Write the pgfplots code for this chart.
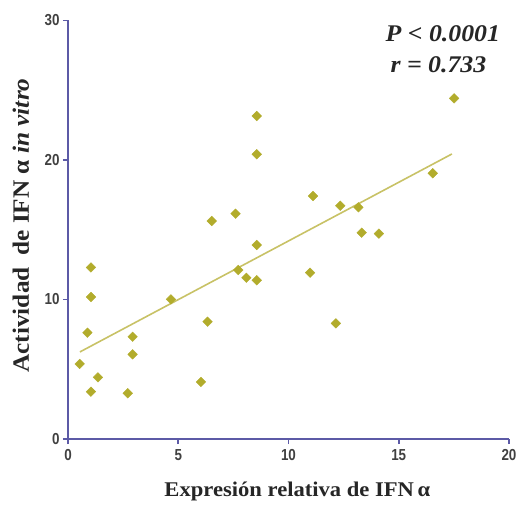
\documentclass[border=0pt]{standalone}
\usepackage{fontspec}
\setmainfont{Liberation Serif}[FakeStretch=1.08]
\newfontfamily\tickfont{Liberation Sans}[FakeStretch=0.84]
\usepackage{pgfplots}
\pgfplotsset{compat=1.18}

\definecolor{axisblue}{HTML}{5C5AA6}
\definecolor{markolive}{HTML}{B2AC2C}
\definecolor{fitolive}{HTML}{C8C266}

\begin{document}
\begin{tikzpicture}
\begin{axis}[
  at={(0,0)}, anchor=south west,
  scale only axis,
  width=441bp, height=418.5bp,
  xmin=0, xmax=20, ymin=0, ymax=30,
  axis x line*=bottom, axis y line*=left,
  axis line style={-, draw=axisblue, line width=1.8bp},
  xtick={0,5,10,15,20}, ytick={0,10,20,30},
  tick align=outside,
  major tick length=5bp,
  tick style={draw=axisblue, line width=1.5bp},
  /pgf/number format/assume math mode=true,
  ticklabel style={font=\tickfont\bfseries\fontsize{16}{16}\selectfont, text=black!75},
  xticklabel style={yshift=-2bp},
  yticklabel style={xshift=0bp},
  xlabel={Expresión relativa de IFN\,α},
  ylabel={Actividad\enspace de IFN α \textit{in vitro}},
  label style={font=\bfseries\fontsize{21}{21}\selectfont, text=black!85},
  xlabel style={at={(axis description cs:0.52,0)}, anchor=base, yshift=-57bp},
  ylabel style={at={(axis description cs:0,0.51)}, anchor=base,
    yshift=39bp, font=\bfseries\fontsize{23.5}{23.5}\selectfont},
  clip=false,
]
% individual samples
\addplot[only marks, mark=square*, mark size=3.4bp,
  mark options={rotate=45, fill=markolive, draw=markolive}]
coordinates {
  (0.53,5.38) (0.88,7.62) (1.04,12.30) (1.04,10.18) (1.04,3.39)
  (1.36,4.42) (2.71,3.28) (2.93,7.33) (2.93,6.07) (4.67,10.01)
  (6.03,4.09) (6.33,8.41) (6.52,15.63) (7.60,16.15) (7.72,12.11)
  (8.09,11.56) (8.56,23.15) (8.56,20.41) (8.56,13.91) (8.56,11.38)
  (10.98,11.92) (11.11,17.42) (12.15,8.29) (12.35,16.72) (13.17,16.61)
  (13.32,14.79) (14.10,14.72) (16.54,19.05) (17.51,24.42)
};
% linear regression
\addplot[fitolive, line width=1.6bp] coordinates {(0.54,6.24) (17.41,20.43)};
\node[anchor=base, font=\bfseries\itshape\fontsize{24}{24}\selectfont, text=black!85]
  at (axis cs:17.0,28.46) {P < 0.0001};
\node[anchor=base, font=\bfseries\itshape\fontsize{24}{24}\selectfont, text=black!85]
  at (axis cs:16.8,26.3) {r = 0.733};
\end{axis}
\pgfresetboundingbox
\path[use as bounding box] (-68bp,-69bp) rectangle (451bp,439bp);
\end{tikzpicture}
\end{document}
